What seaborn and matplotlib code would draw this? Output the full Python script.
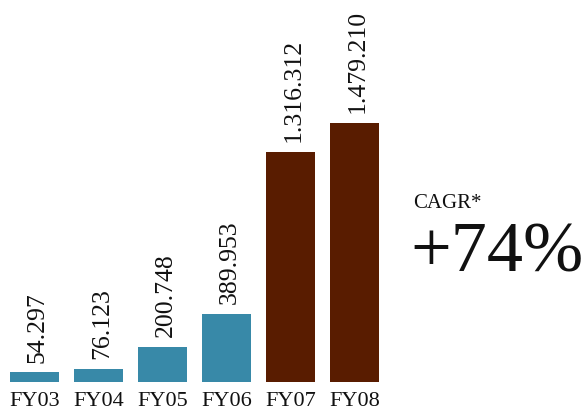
import matplotlib
matplotlib.use("Agg")
import matplotlib.pyplot as plt
import seaborn as sns
import pandas as pd

years = ["FY03", "FY04", "FY05", "FY06", "FY07", "FY08"]
values = [54297, 76123, 200748, 389953, 1316312, 1479210]
value_labels = ["54.297", "76.123", "200.748", "389.953", "1.316.312", "1.479.210"]
bar_colors = ["#3889a8", "#3889a8", "#3889a8", "#3889a8", "#591c00", "#591c00"]
cagr_title = "CAGR*"
cagr_value = "+74%"

sns.set_theme(style="white")
plt.rcParams["font.family"] = ["Liberation Serif", "DejaVu Serif"]

df = pd.DataFrame({"year": years, "value": values})

fig = plt.figure(figsize=(5.88, 4.13), dpi=100)
ax = fig.add_axes([0, 31 / 413, 1, 382 / 413])

sns.barplot(data=df, x="year", y="value", hue="year", palette=bar_colors,
            width=49 / 64, legend=False, ax=ax, saturation=1, linewidth=0)

xmin = -34.5 / 64
ax.set_xlim(xmin, xmin + 588 / 64)
ax.set_ylim(0, max(values) * 382 / 259)

for i, (v, lab) in enumerate(zip(values, value_labels)):
    ax.annotate(lab, (i, v), xytext=(2.5, 7), textcoords="offset points",
                rotation=90, ha="center", va="bottom", fontsize=18.5, color="#111111")

ax.set_xlabel("")
ax.set_ylabel("")
ax.set_yticks([])
ax.tick_params(axis="x", length=0, pad=7, labelsize=16, labelcolor="#111111")
sns.despine(ax=ax, left=True, bottom=True, top=True, right=True)

fig.text(413 / 588, 1 - 208 / 413, cagr_title, fontsize=15, color="#111111",
         ha="left", va="baseline")
fig.text(410 / 588, 1 - 272 / 413, cagr_value, fontsize=52, color="#111111",
         ha="left", va="baseline")

fig.savefig("out.png", dpi=100)
